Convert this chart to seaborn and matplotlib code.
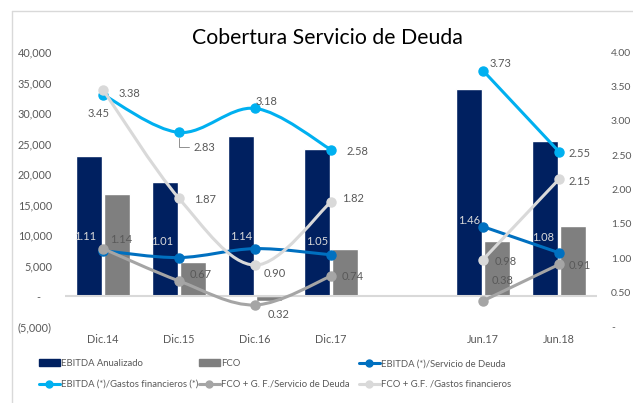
import numpy as np
import pandas as pd
import seaborn as sns
import matplotlib.pyplot as plt
from matplotlib.path import Path
from matplotlib.patches import PathPatch, Patch
from matplotlib.lines import Line2D
from matplotlib.ticker import FuncFormatter

# data
slots = ['Dic.14', 'Dic.15', 'Dic.16', 'Dic.17', '', 'Jun.17', 'Jun.18']
periods = ['Dic.14', 'Dic.15', 'Dic.16', 'Dic.17', 'Jun.17', 'Jun.18']
ebitda = [23000, 18700, 26200, 24200, 34000, 25500]
fco = [16700, 5700, -700, 7700, 9000, 11600]

ebitda_serv = [1.11, 1.01, 1.14, 1.05, 1.46, 1.08]
ebitda_gastos = [3.38, 2.83, 3.18, 2.58, 3.73, 2.55]
fco_serv = [1.14, 0.67, 0.32, 0.74, 0.38, 0.91]
fco_gastos = [3.45, 1.87, 0.90, 1.82, 0.98, 2.15]

bar_names = ['EBITDA Anualizado', 'FCO']
bar_colors = ['#002060', '#7F7F7F']
line_names = ['EBITDA (*)/Servicio de Deuda', 'EBITDA (*)/Gastos financieros (*)',
              'FCO + G. F./Servicio de Deuda', 'FCO + G.F. /Gastos financieros']
line_colors = ['#0070C0', '#00B0F0', '#A5A5A5', '#D9D9D9']
line_values = [ebitda_serv, ebitda_gastos, fco_serv, fco_gastos]

# label offsets in pixels (dx, dy up) and alignment, per series
label_offsets = [
    [(-7, 14), (-6, 16), (-3, 12), (-3, 13), (-3, 6), (-5, 15)],
    [(16, 1), (15, -15), (1, 7), (16, -2), (7, 7), (10, -2)],
    [(7, 9), (11, 6), (13, -10), (11, 0), (9, 20), (10, -1)],
    [(-4, -24), (15, -1), (9, -8), (11, 3), (12, -2), (10, -2)],
]
label_ha = ['right', 'left', 'left', 'left']
label_colors = ['#D9D9D9', '#595959', '#595959', '#595959']

sns.set_style('white')
plt.rcParams['font.family'] = ['Lato', 'DejaVu Sans']
grey = '#595959'
px = 0.72  # points per pixel at 100 dpi

df = pd.DataFrame({'periodo': periods * 2,
                   'serie': [bar_names[0]] * 6 + [bar_names[1]] * 6,
                   'valor': ebitda + fco})

fig = plt.figure(figsize=(6.33, 4.03), dpi=100)
ax = fig.add_axes([65 / 633, 1 - 327 / 403, 532 / 633, 275 / 403])
sns.barplot(data=df, x='periodo', y='valor', hue='serie', order=slots,
            hue_order=bar_names, palette=bar_colors, saturation=1,
            width=0.75, gap=0.1, errorbar=None, legend=False, ax=ax)
ax.set_ylim(-5000, 40000)
ax.set_yticks(range(-5000, 40001, 5000))
ax.yaxis.set_major_formatter(FuncFormatter(
    lambda v, _: '-    ' if v == 0 else ('({:,})'.format(int(-v)) if v < 0 else '{:,}'.format(int(v)))))
ax.axhline(0, color='#D9D9D9', lw=1.5, zorder=1)
ax.set_xlabel('')
ax.set_ylabel('')
ax.tick_params(axis='both', length=0, labelsize=7.8, labelcolor=grey)
ax.tick_params(axis='y', pad=13 * px)
ax.tick_params(axis='x', pad=7 * px)
sns.despine(ax=ax, left=True, bottom=True)

ax2 = ax.twinx()
ax2.set_ylim(0, 4)
ax2.set_yticks(np.arange(0, 4.01, 0.5))
ax2.yaxis.set_major_formatter(FuncFormatter(lambda v, _: '-' if v == 0 else '{:.2f}'.format(v)))
ax2.tick_params(axis='y', length=0, labelsize=7.5, labelcolor=grey, pad=14 * px)
for s in ax2.spines.values():
    s.set_visible(False)


def smooth_path(xs, ys):
    pts = np.column_stack([xs, ys]).astype(float)
    n = len(pts)
    verts = [pts[0]]
    codes = [Path.MOVETO]
    for i in range(n - 1):
        p0, p1 = pts[max(i - 1, 0)], pts[i]
        p2, p3 = pts[i + 1], pts[min(i + 2, n - 1)]
        verts += [p1 + (p2 - p0) / 6, p2 - (p3 - p1) / 6, p2]
        codes += [Path.CURVE4] * 3
    return Path(verts, codes)


xpos = [slots.index(p) for p in periods]
for k, vals in enumerate(line_values):
    c = line_colors[k]
    for seg in (slice(0, 4), slice(4, 6)):
        ax2.add_patch(PathPatch(smooth_path(xpos[seg], vals[seg]), fill=False,
                                edgecolor=c, lw=2.2, capstyle='round', zorder=3 + k))
    ax2.plot(xpos, vals, 'o', ms=6.5, color=c, zorder=3 + k)
    for i, v in enumerate(vals):
        dx, dy = label_offsets[k][i]
        ha = 'center' if (k == 3 and i == 0) else label_ha[k]
        kw = {}
        if k == 1 and i == 1:
            kw['arrowprops'] = dict(arrowstyle='-', color='#7F7F7F', lw=0.6,
                                    shrinkA=1, shrinkB=4, relpos=(0, 0.5),
                                    connectionstyle='angle,angleA=0,angleB=90,rad=0')
        ax2.annotate('{:.2f}'.format(v), (xpos[i], v), xytext=(dx * px, dy * px),
                     textcoords='offset points', ha=ha, va='center', fontsize=8,
                     color=label_colors[k], zorder=10, **kw)

# twinx autoscale moves the shared x limits, put the category limits back
ax.set_xlim(-0.5, len(slots) - 0.5)

fig.text(327 / 633, 1 - 38 / 403, 'Cobertura Servicio de Deuda', ha='center',
         va='center', fontsize=15.3, color='black')

# chart border (left and top edges visible)
fig.add_artist(Line2D([12 / 633, 12 / 633], [0, 1 - 11 / 403], color='#D9D9D9', lw=1))
fig.add_artist(Line2D([12 / 633, 1], [1 - 11 / 403, 1 - 11 / 403], color='#D9D9D9', lw=1))

bar_h = [Patch(color=c) for c in bar_colors]
line_h = [Line2D([], [], color=c, lw=2.2, marker='o', ms=5) for c in line_colors]
entries = [(bar_h[0], bar_names[0]), (bar_h[1], bar_names[1]), (line_h[0], line_names[0]),
           (line_h[1], line_names[1]), (line_h[2], line_names[2]), (line_h[3], line_names[3])]
for col, x0 in enumerate([39, 199, 359]):
    hs = [entries[col][0], entries[col + 3][0]]
    ls = [entries[col][1], entries[col + 3][1]]
    fig.legend(hs, ls, loc='center left', bbox_to_anchor=(x0 / 633, 1 - 374 / 403),
               frameon=False, fontsize=6.8, labelcolor=grey, borderpad=0, borderaxespad=0,
               handlelength=2.2, handletextpad=0.12, labelspacing=1.25)

fig.savefig('out.png', dpi=100)
